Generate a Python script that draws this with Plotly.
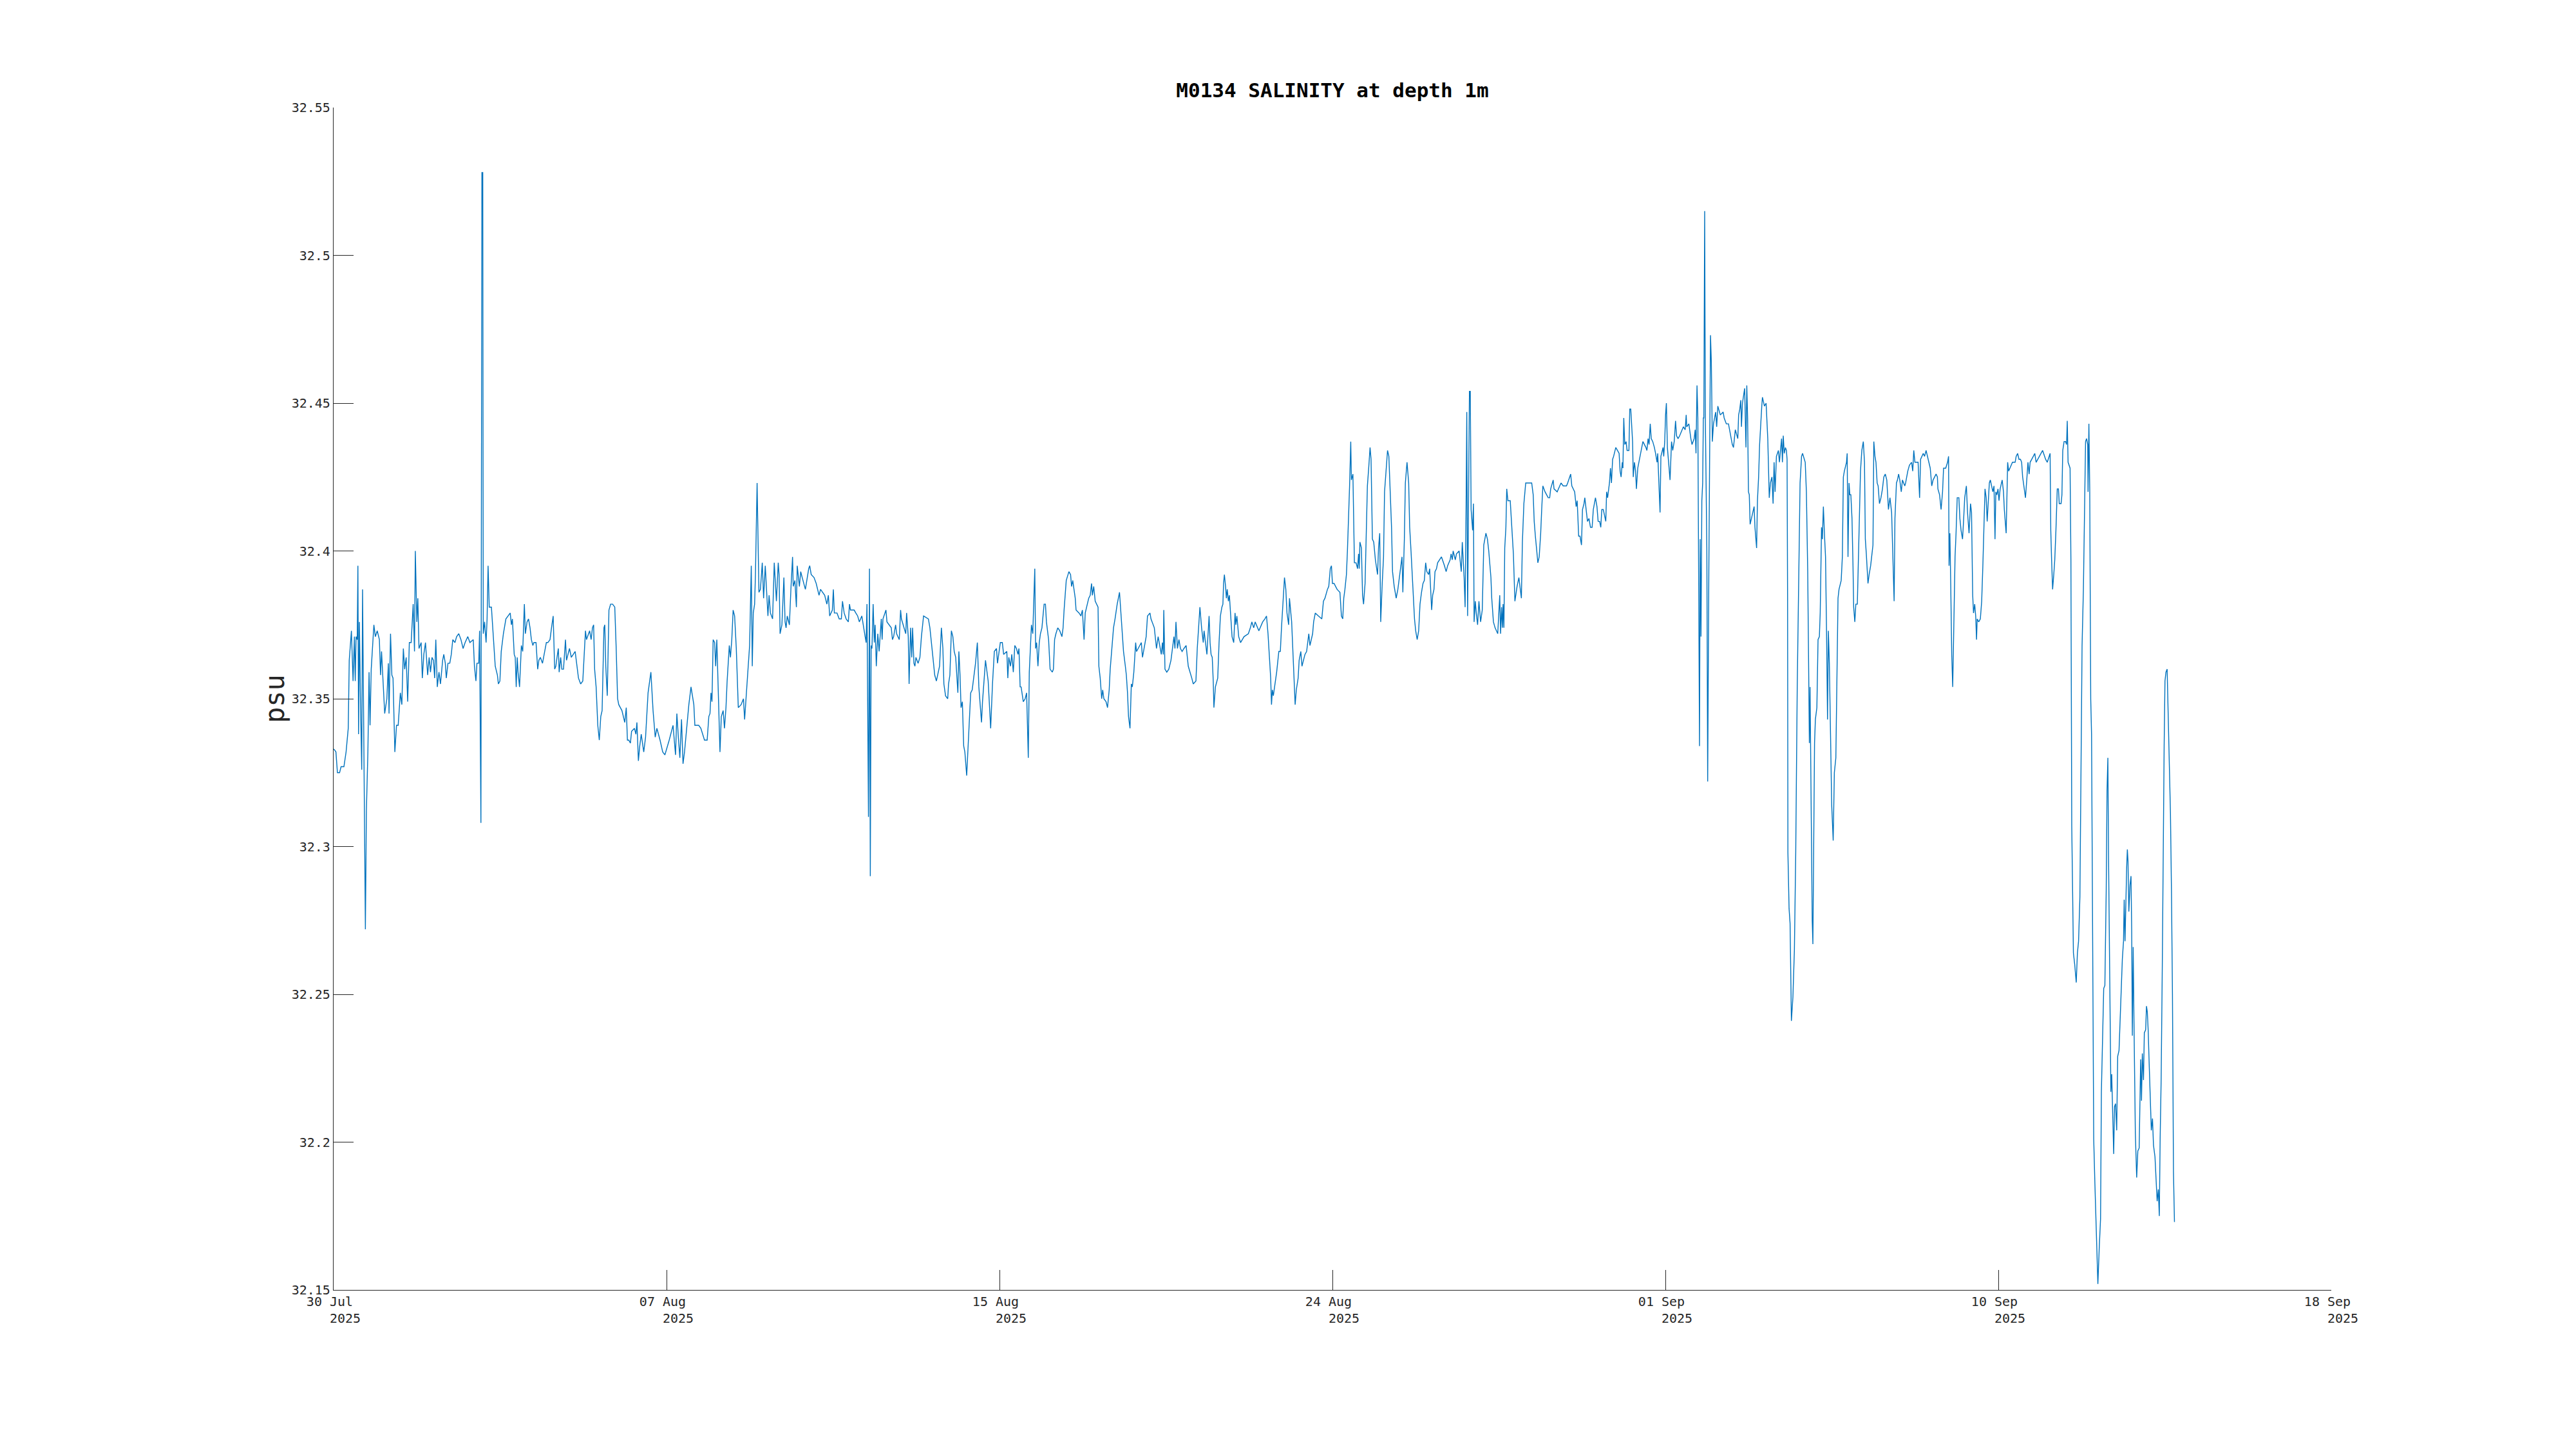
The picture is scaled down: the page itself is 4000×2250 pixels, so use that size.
import pandas as pd
import plotly.graph_objects as go

# ---- data (hours since 2025-07-30 00:00, salinity in psu) ----
start_time = "2025-07-30 00:00"

hours = [
0.1,1.4,2.3,3.6,4.5,6.2,7.5,8.8,9.4,10.7,11.7,12.5,13.0,13.5,14.2,14.6,15.0,15.5,16.1,16.9,17.4,18.2,19.1,19.7,20.6,21.3,21.9,22.6,23.6,24.2,25.1,26.2,27.5,28.2,28.8,29.8,30.7,32.0,32.9,33.3,34.2,35.0,35.7,36.8,37.8,38.8,40.1,41.0,41.9,42.7,43.6,44.5,45.5,46.6,47.8,48.6,49.1,50.0,50.6,51.3,52.6,53.3,54.2,55.2,56.5,57.4,58.2,59.1,60.0,60.7,61.4,62.3,63.3,64.2,65.5,66.2,67.1,67.7,68.7,69.8,70.7,71.6,72.9,73.9,75.2,76.5,77.8,79.0,80.6,81.9,83.9,84.6,85.5,86.1,87.2,87.7,88.1,88.5,89.1,89.6,89.9,90.7,91.6,92.2,92.8,93.5,94.8,95.8,97.1,98.4,99.0,99.9,100.7,102.0,103.5,106.1,106.8,107.4,108.5,
109.1,109.7,110.3,110.8,111.7,112.8,113.6,114.6,115.2,116.2,117.1,118.0,118.8,119.7,120.3,121.6,122.6,123.3,124.2,125.5,126.8,127.8,128.7,130.0,130.9,131.9,132.8,133.5,134.2,135.0,135.5,136.4,137.1,138.1,139.3,139.9,141.7,142.8,145.1,147.1,148.4,149.7,151.3,151.9,153.8,154.7,155.5,156.2,156.8,157.7,158.7,159.6,160.5,161.3,162.4,162.9,163.5,164.4,165.4,166.4,167.6,168.9,169.7,170.6,171.3,173.2,174.9,175.8,176.5,177.3,178.3,179.0,180.7,181.6,182.2,183.1,183.9,184.8,186.3,187.4,188.9,189.7,190.6,191.9,193.2,194.2,196.1,197.7,199.0,201.6,203.9,205.4,206.2,207.1,208.0,209.0,
209.9,210.8,211.9,213.4,214.7,215.7,216.4,217.0,219.3,220.6,222.8,224.4,225.4,226.1,226.7,227.3,228.0,228.9,229.5,230.2,231.2,232.1,232.9,234.0,234.8,235.7,236.4,237.7,238.4,239.2,240.0,240.9,241.9,243.1,244.8,246.2,246.9,248.4,249.3,249.9,250.9,251.5,252.1,252.9,253.4,254.4,255.5,256.4,257.5,258.3,259.3,260.2,260.9,261.6,262.4,263.7,264.7,266.0,267.1,267.6,268.2,269.3,270.5,271.2,271.8,272.5,273.8,274.7,275.7,276.1,277.1,278.0,278.5,279.8,280.6,281.5,282.5,283.4,285.4,286.0,286.9,288.6,289.9,291.6,292.5,295.0,296.3,297.2,298.0,299.6,300.2,300.8,302.4,303.7,305.0,305.7,306.7,307.9,309.2,309.9,
310.5,312.7,313.7,314.8,315.8,317.3,319.3,319.9,320.4,321.3,321.9,322.4,322.9,323.4,324.1,324.8,325.3,326.0,326.9,327.7,329.0,329.5,330.0,331.8,332.4,333.7,335.0,335.7,336.4,337.6,338.2,339.8,340.6,341.1,343.7,344.2,345.2,345.7,346.6,347.3,347.8,348.6,349.2,349.8,351.1,352.2,353.1,354.4,357.3,358.2,358.9,360.2,361.1,362.1,364.0,365.1,366.0,366.6,367.6,368.9,369.4,370.2,371.1,372.0,372.8,373.7,374.3,375.0,375.6,376.3,376.9,377.7,378.5,379.2,380.3,381.3,382.7,383.6,384.7,385.6,386.7,387.6,389.2,389.8,391.6,393.2,394.7,395.8,396.9,398.2,398.8,400.5,401.7,402.5,404.4,405.0,405.6,406.6,407.4,408.3,409.2,410.2,
411.1,411.7,412.4,413.0,414.3,415.4,416.3,417.3,417.9,419.2,420.0,421.2,421.7,422.3,423.1,423.9,424.6,425.5,426.3,426.8,427.6,428.2,429.5,430.4,431.7,432.4,433.1,433.9,435.0,436.2,437.5,438.2,438.8,440.1,441.7,442.7,443.3,444.0,445.5,446.0,447.8,448.9,449.8,450.8,451.5,452.7,453.6,454.5,455.3,455.8,456.6,457.5,459.2,459.7,460.5,461.4,462.0,462.7,464.0,464.9,465.9,466.5,467.4,468.5,469.4,470.7,472.1,473.4,473.9,474.5,475.6,476.2,476.9,477.5,478.4,479.2,479.8,480.7,481.8,482.3,483.3,485.2,485.9,486.8,488.1,488.9,490.4,491.0,493.0,494.3,495.3,497.2,497.9,498.4,498.7,499.4,500.5,501.7,503.0,503.9,504.8,505.4,506.0,506.9,507.8,508.7,509.7,510.8,
512.1,513.4,514.0,515.5,516.4,518.0,518.8,519.5,520.4,521.4,522.4,522.9,524.6,525.9,526.5,527.1,527.8,528.4,528.8,529.7,531.1,531.9,532.7,533.6,534.2,534.6,535.1,535.8,536.3,536.8,537.5,538.1,538.8,539.7,540.7,541.5,542.0,542.6,543.7,544.8,546.9,549.5,550.7,551.6,552.7,553.6,555.8,558.1,559.4,560.4,561.3,562.9,563.4,563.9,564.5,566.5,567.8,568.7,569.4,570.3,571.2,572.0,572.7,573.7,574.2,575.5,576.4,577.0,577.6,578.3,579.4,580.0,581.0,581.7,583.5,584.5,585.8,586.5,588.1,588.7,589.7,591.6,593.6,594.6,595.5,597.0,597.8,598.7,599.4,600.0,601.0,601.9,602.8,604.5,605.4,606.2,606.8,607.5,608.4,609.0,609.7,610.3,611.0,611.4,
612.3,613.2,614.2,615.1,615.7,616.1,616.5,617.4,618.1,618.7,619.6,620.2,621.0,621.9,622.6,623.2,624.0,624.8,625.8,627.1,627.7,628.4,629.0,629.9,630.7,631.3,632.2,633.1,633.9,634.8,635.5,636.1,637.1,638.3,639.3,640.2,641.8,642.3,643.2,643.8,644.8,645.8,646.4,647.2,648.0,649.3,650.0,650.9,651.8,652.6,653.5,654.4,655.2,656.0,656.7,657.8,658.4,659.1,659.6,660.2,661.0,661.6,662.5,663.2,665.5,667.3,668.3,669.2,670.7,671.3,672.0,672.5,673.8,674.5,676.1,677.4,678.0,679.1,679.7,680.3,680.7,681.2,681.8,682.3,682.8,683.3,684.2,684.7,685.1,685.8,686.4,687.2,688.0,689.0,690.0,690.9,692.2,693.1,693.9,695.2,695.7,696.7,697.7,698.6,699.3,700.5,701.0,701.6,702.1,702.5,703.0,703.5,704.2,704.7,705.4,706.8,707.7,708.7,709.6,710.3,710.9,712.0,
712.8,713.5,714.1,715.0,716.1,717.6,719.7,720.6,721.2,721.9,722.5,723.4,724.2,725.1,725.7,726.4,727.7,728.6,729.6,730.5,731.1,732.6,733.1,735.0,737.3,738.6,740.6,741.3,743.1,743.8,745.5,746.4,747.0,747.4,747.9,748.7,749.6,750.2,751.1,751.6,753.2,754.1,755.0,756.0,756.7,758.0,758.9,759.6,760.5,761.2,761.8,762.7,763.5,764.2,764.7,765.3,766.4,767.0,767.6,768.3,768.9,770.2,771.2,772.2,772.8,773.4,774.1,774.5,775.0,775.6,776.4,777.0,778.1,778.6,779.2,780.3,780.7,781.4,782.1,782.6,783.4,784.1,785.7,786.5,788.3,788.9,789.6,790.2,790.9,791.5,792.4,793.4,794.1,795.0,795.4,796.0,796.8,797.3,798.6,799.0,799.6,800.1,800.6,801.2,801.8,802.8,803.7,804.4,805.3,806.1,806.7,807.6,808.6,809.9,810.8,811.9,812.5,
812.8,814.1,815.3,816.0,817.3,817.9,818.4,819.0,819.5,820.0,820.5,820.9,821.4,821.9,822.4,822.8,823.1,823.6,824.0,824.9,825.4,826.1,826.7,827.1,827.6,828.2,828.9,830.2,830.8,831.5,833.0,834.7,835.3,836.6,837.9,838.8,839.6,840.2,840.9,842.0,843.5,844.0,844.7,845.3,845.7,846.3,847.6,848.0,848.4,848.9,849.4,849.9,850.4,850.9,851.7,853.3,853.8,854.8,855.3,856.0,856.6,857.3,857.9,858.3,859.5,860.5,861.5,862.4,863.1,864.0,864.7,865.3,865.9,866.7,867.9,868.5,869.8,870.3,870.8,871.4,872.1,872.7,873.1,873.4,873.6,874.3,874.9,875.7,876.6,877.5,878.3,879.2,880.1,880.9,881.8,882.4,884.0,884.7,885.5,886.0,886.5,886.9,887.6,888.2,888.6,889.1,889.6,890.1,891.0,891.7,892.5,893.0,893.8,894.3,894.9,895.6,896.2,896.8,897.4,897.9,898.5,899.2,899.9,900.8,901.5,902.4,903.0,903.7,904.3,905.6,906.3,906.9,907.5,908.8,909.2,909.7,910.3,910.8,911.4,912.1,912.7,913.1,
913.8,914.4,915.3,915.9,916.6,917.2,918.0,918.9,919.6,920.1,920.7,921.7,922.4,923.3,923.9,924.7,925.2,925.9,926.5,927.2,927.8,928.6,929.5,930.4,931.2,932.1,933.0,934.0,934.9,935.9,936.6,937.4,937.9,938.8,939.4,940.1,940.8,941.7,942.4,943.8,944.3,945.6,946.6,947.9,948.6,949.2,949.9,951.8,952.7,953.3,954.9,955.7,956.6,957.5,959.1,960.0,960.8,962.6,963.4,963.7,964.7,965.6,966.5,967.1,968.4,969.5,970.1,970.4,970.9,971.4,972.0,972.6,973.2,974.0,974.6,975.3,976.3,976.9,977.6,978.5,979.1,979.8,980.8,981.5,982.4,983.3,983.9,984.6,985.1,985.8,986.4,986.9,987.3,988.2,989.2,990.0,990.7,991.4,992.0,992.7,993.3,993.9,994.6,995.2,996.7,997.4,998.0,998.5,999.1,999.8,1000.4,1001.1,1002.3,1003.1,1003.6,1004.7,1005.2,1005.6,1006.2,1006.9,1008.5,1010.1,1010.7,1011.6,1012.4,1013.3,1014.0,
1014.6,1015.5,1016.3,1017.2,1017.8,1018.5,1019.1,1021.0,1021.9,1022.7,1024.5,1026.6,1028.4,1029.4,1031.1,1031.5,1032.0,1032.6,1033.3,1033.9,1034.6,1035.4,1036.1,1036.6,1037.7,1038.2,1038.7,1039.5,1040.4,1041.0,1041.4,1041.9,1043.1,1043.6,1044.1,1044.6,1045.1,1045.9,1046.8,1047.5,1048.2,1049.0,1049.7,1050.3,1051.1,1051.6,1052.4,1053.0,1053.7,1053.9,1054.4,1054.9,1055.5,1056.0,1056.8,1057.3,1058.0,1058.8,1059.3,1059.8,1060.6,1061.4,1061.9,1062.7,1063.3,1064.0,1064.8,1065.3,1065.8,1066.2,1066.8,1067.6,1068.1,1068.7,1069.3,1069.8,1070.4,1071.1,1071.7,1072.5,1073.3,1073.9,1074.5,1075.2,1075.6,1076.1,1076.7,1077.1,1077.5,1077.9,1078.4,1079.1,1079.7,1080.1,1080.5,1081.0,1081.5,1082.3,1083.1,1083.8,1084.6,1085.1,1085.5,1086.0,1086.5,1087.2,1087.7,1088.5,1089.0,1089.5,1090.0,1090.7,1091.3,1091.9,1092.6,1093.2,1094.1,1094.8,1095.4,1096.1,1096.7,1097.2,1097.8,1098.5,1099.0,1099.6,1100.1,1100.7,1101.4,1101.9,1102.7,1103.4,1104.0,1104.6,1105.2,1105.8,
]

salinity = [
32.333,32.332,32.325,32.325,32.327,32.327,32.332,32.340,32.363,32.373,32.356,32.371,32.356,32.371,32.370,32.395,32.338,32.376,32.351,32.326,32.387,32.324,32.272,32.312,32.332,32.359,32.341,32.360,32.369,32.375,32.371,32.373,32.370,32.358,32.366,32.353,32.345,32.350,32.362,32.345,32.372,32.358,32.357,32.332,32.341,32.341,32.352,32.348,32.367,32.360,32.364,32.349,32.369,32.369,32.382,32.366,32.400,32.376,32.384,32.367,32.369,32.357,32.365,32.369,32.358,32.364,32.359,32.364,32.363,32.357,32.370,32.354,32.359,32.355,32.363,32.365,32.362,32.357,32.362,32.362,32.365,32.370,32.369,32.371,32.372,32.370,32.367,32.369,32.371,32.369,32.370,32.361,32.356,32.362,32.362,32.373,32.333,32.308,32.528,32.528,32.372,32.376,32.369,32.377,32.395,32.381,32.381,32.372,32.361,32.358,32.355,32.356,32.366,32.372,32.377,32.379,32.375,32.377,32.365,
32.364,32.354,32.364,32.359,32.354,32.368,32.366,32.382,32.372,32.376,32.377,32.374,32.370,32.368,32.369,32.369,32.360,32.363,32.364,32.362,32.366,32.369,32.369,32.370,32.374,32.378,32.360,32.361,32.364,32.367,32.359,32.364,32.360,32.360,32.370,32.363,32.367,32.364,32.366,32.357,32.355,32.356,32.373,32.370,32.373,32.370,32.374,32.375,32.360,32.354,32.341,32.336,32.344,32.346,32.374,32.375,32.361,32.351,32.380,32.382,32.382,32.381,32.368,32.350,32.348,32.346,32.342,32.347,32.336,32.336,32.335,32.339,32.340,32.338,32.342,32.329,32.334,32.338,32.332,32.337,32.352,32.355,32.359,32.346,32.337,32.340,32.336,32.332,32.331,32.336,32.341,32.331,32.345,32.337,32.330,32.343,
32.328,32.332,32.339,32.348,32.354,32.350,32.348,32.341,32.341,32.340,32.336,32.336,32.344,32.345,32.352,32.349,32.370,32.369,32.361,32.370,32.348,32.332,32.344,32.346,32.340,32.347,32.356,32.368,32.364,32.370,32.380,32.378,32.367,32.347,32.348,32.350,32.343,32.355,32.364,32.368,32.395,32.361,32.379,32.382,32.392,32.423,32.386,32.387,32.396,32.384,32.395,32.385,32.378,32.385,32.379,32.377,32.396,32.383,32.396,32.392,32.372,32.375,32.391,32.376,32.374,32.378,32.375,32.387,32.398,32.388,32.390,32.381,32.395,32.388,32.393,32.391,32.389,32.387,32.394,32.395,32.392,32.391,32.389,32.385,32.387,32.385,32.382,32.385,32.378,32.380,32.387,32.379,32.379,32.377,32.377,32.383,32.379,32.377,32.376,32.382,
32.380,32.380,32.379,32.378,32.376,32.378,32.371,32.369,32.382,32.310,32.394,32.290,32.368,32.367,32.382,32.369,32.375,32.361,32.372,32.366,32.377,32.370,32.377,32.380,32.376,32.375,32.374,32.370,32.371,32.375,32.372,32.370,32.380,32.377,32.372,32.379,32.371,32.355,32.374,32.364,32.374,32.362,32.361,32.364,32.362,32.364,32.371,32.378,32.377,32.374,32.370,32.363,32.358,32.356,32.361,32.374,32.367,32.355,32.351,32.350,32.355,32.358,32.373,32.371,32.366,32.364,32.358,32.352,32.366,32.358,32.347,32.349,32.334,32.332,32.324,32.336,32.352,32.353,32.358,32.362,32.369,32.354,32.342,32.349,32.363,32.356,32.340,32.355,32.366,32.367,32.362,32.369,32.369,32.365,32.366,32.357,32.364,32.361,32.365,32.359,32.368,32.367,
32.365,32.367,32.354,32.354,32.349,32.350,32.352,32.330,32.359,32.375,32.372,32.394,32.367,32.369,32.361,32.369,32.372,32.374,32.379,32.382,32.382,32.376,32.370,32.360,32.359,32.360,32.370,32.372,32.374,32.373,32.371,32.374,32.380,32.390,32.393,32.392,32.388,32.390,32.384,32.380,32.379,32.378,32.380,32.370,32.379,32.382,32.384,32.385,32.389,32.385,32.388,32.383,32.381,32.361,32.357,32.350,32.353,32.350,32.349,32.347,32.353,32.360,32.367,32.374,32.377,32.382,32.386,32.375,32.371,32.366,32.361,32.358,32.352,32.344,32.340,32.355,32.354,32.359,32.369,32.366,32.367,32.369,32.364,32.367,32.371,32.378,32.379,32.377,32.374,32.367,32.371,32.365,32.369,32.365,32.380,32.360,32.359,32.360,32.363,32.367,32.371,32.367,32.376,32.367,32.370,32.367,32.366,32.367,
32.368,32.361,32.360,32.357,32.355,32.356,32.367,32.374,32.381,32.374,32.369,32.373,32.365,32.378,32.369,32.365,32.364,32.356,32.347,32.354,32.357,32.369,32.378,32.381,32.382,32.389,32.392,32.388,32.384,32.387,32.383,32.385,32.378,32.371,32.369,32.379,32.375,32.378,32.371,32.369,32.371,32.372,32.374,32.376,32.374,32.376,32.373,32.376,32.377,32.378,32.372,32.357,32.348,32.353,32.351,32.359,32.366,32.366,32.374,32.382,32.391,32.387,32.379,32.375,32.384,32.376,32.364,32.356,32.348,32.353,32.357,32.363,32.366,32.361,32.365,32.366,32.372,32.368,32.372,32.376,32.379,32.378,32.377,32.383,32.384,32.387,32.388,32.394,32.395,32.389,32.389,32.388,32.387,32.386,32.378,32.377,32.384,32.387,32.392,32.400,32.411,32.422,32.437,32.424,
32.426,32.396,32.396,32.394,32.399,32.394,32.403,32.401,32.385,32.382,32.389,32.404,32.422,32.429,32.435,32.431,32.404,32.403,32.397,32.392,32.401,32.406,32.376,32.389,32.398,32.420,32.428,32.434,32.432,32.419,32.408,32.393,32.388,32.384,32.387,32.391,32.398,32.386,32.404,32.423,32.430,32.423,32.408,32.400,32.391,32.377,32.373,32.370,32.373,32.382,32.386,32.389,32.390,32.396,32.393,32.392,32.394,32.387,32.380,32.385,32.387,32.393,32.394,32.396,32.398,32.395,32.393,32.395,32.397,32.399,32.397,32.400,32.397,32.399,32.400,32.393,32.403,32.391,32.381,32.416,32.447,32.378,32.422,32.454,32.454,32.414,32.407,32.416,32.376,32.383,32.379,32.375,32.383,32.376,32.380,32.402,32.406,32.404,32.400,32.391,32.384,32.376,32.374,32.373,32.372,32.385,32.372,32.381,32.374,32.382,32.374,32.401,32.408,32.421,32.417,32.417,32.409,32.399,32.383,32.386,32.388,32.391,
32.387,32.384,32.403,32.416,32.423,32.423,32.423,32.419,32.410,32.405,32.401,32.396,32.398,32.406,32.414,32.422,32.420,32.419,32.418,32.418,32.421,32.424,32.421,32.420,32.423,32.422,32.422,32.423,32.426,32.422,32.420,32.415,32.417,32.412,32.405,32.405,32.402,32.414,32.416,32.418,32.410,32.411,32.408,32.408,32.414,32.418,32.415,32.410,32.410,32.408,32.414,32.414,32.412,32.410,32.420,32.418,32.423,32.428,32.423,32.431,32.432,32.435,32.434,32.433,32.427,32.425,32.430,32.428,32.445,32.436,32.437,32.434,32.434,32.448,32.448,32.437,32.425,32.430,32.427,32.421,32.428,32.430,32.434,32.437,32.435,32.434,32.438,32.436,32.443,32.438,32.437,32.435,32.433,32.430,32.433,32.425,32.413,32.432,32.435,32.432,32.437,32.446,32.450,32.435,32.430,32.424,32.437,32.434,32.437,32.444,32.439,32.438,32.439,32.441,32.442,32.441,32.446,
32.442,32.443,32.438,32.436,32.438,32.441,32.433,32.456,32.445,32.393,32.334,32.404,32.371,32.417,32.423,32.445,32.445,32.515,32.445,32.401,32.322,32.393,32.433,32.473,32.464,32.437,32.443,32.447,32.442,32.449,32.446,32.447,32.445,32.443,32.443,32.440,32.438,32.436,32.435,32.441,32.438,32.446,32.448,32.451,32.442,32.450,32.455,32.445,32.435,32.456,32.445,32.420,32.419,32.409,32.411,32.415,32.408,32.401,32.417,32.425,32.436,32.445,32.449,32.452,32.449,32.450,32.438,32.418,32.423,32.425,32.416,32.430,32.420,32.432,32.434,32.430,32.438,32.430,32.439,32.433,32.435,32.434,32.431,32.385,32.298,32.279,32.274,32.241,32.249,32.265,32.298,32.354,32.388,32.423,32.432,32.433,32.430,32.420,32.393,32.362,32.335,32.354,32.306,32.275,32.267,32.298,32.335,32.343,32.347,32.370,32.371,32.379,32.408,32.404,32.415,32.405,32.398,32.373,32.343,32.373,32.362,32.338,32.314,32.302,32.325,32.330,32.362,32.384,32.387,32.390,32.398,32.425,32.427,32.430,32.433,32.398,32.423,32.419,32.419,32.411,32.395,32.381,
32.376,32.382,32.382,32.395,32.415,32.427,32.434,32.437,32.430,32.404,32.399,32.389,32.392,32.395,32.398,32.402,32.437,32.432,32.430,32.423,32.422,32.416,32.418,32.421,32.425,32.426,32.424,32.414,32.418,32.413,32.399,32.383,32.411,32.423,32.424,32.426,32.424,32.420,32.424,32.422,32.423,32.427,32.429,32.430,32.427,32.434,32.430,32.430,32.418,32.431,32.433,32.432,32.434,32.432,32.428,32.422,32.424,32.426,32.425,32.421,32.419,32.414,32.420,32.428,32.428,32.430,32.432,32.395,32.406,32.389,32.365,32.354,32.371,32.398,32.406,32.418,32.418,32.411,32.407,32.404,32.410,32.418,32.422,32.413,32.406,32.416,32.413,32.385,32.379,32.382,32.378,32.370,32.377,32.376,32.377,32.383,32.395,32.409,32.421,32.418,32.410,32.416,32.423,32.424,32.420,32.422,32.404,32.420,32.419,32.421,32.417,32.421,32.424,32.420,32.414,32.406,32.420,32.430,32.427,32.428,32.430,32.430,32.432,32.433,32.431,32.431,32.430,
32.425,32.421,32.418,32.425,32.430,32.426,32.430,32.432,32.433,32.430,32.432,32.434,32.431,32.430,32.433,32.407,32.397,32.387,32.392,32.397,32.407,32.421,32.421,32.416,32.416,32.419,32.434,32.437,32.437,32.436,32.444,32.430,32.428,32.397,32.307,32.280,32.264,32.260,32.254,32.264,32.268,32.283,32.338,32.368,32.387,32.407,32.437,32.438,32.436,32.420,32.443,32.421,32.350,32.338,32.240,32.201,32.186,32.168,32.162,32.152,32.164,32.174,32.217,32.240,32.252,32.253,32.285,32.319,32.330,32.297,32.260,32.217,32.223,32.209,32.196,32.212,32.213,32.204,32.229,32.231,32.244,32.252,32.262,32.268,32.282,32.268,32.285,32.293,32.299,32.295,32.278,32.287,32.290,32.272,32.236,32.266,32.240,32.203,32.188,32.197,32.198,32.213,32.228,32.214,32.230,32.221,32.237,32.238,32.246,32.244,32.238,32.225,32.213,32.204,32.208,32.199,32.195,32.188,32.180,32.184,32.175,32.201,32.221,32.260,32.299,32.334,32.356,32.359,32.360,32.348,32.331,32.311,32.285,32.250,32.190,32.173,
]

# ---- axis labels ----
title_text = "M0134 SALINITY at depth 1m"
y_label = "psu"
x_range = ["2025-07-30 00:00", "2025-09-18 00:00"]
x_tick_labels = ["30 Jul", "07 Aug", "15 Aug", "24 Aug", "01 Sep", "10 Sep", "18 Sep"]
x_tick_year = "2025"
y_ticks = [32.15, 32.2, 32.25, 32.3, 32.35, 32.4, 32.45, 32.5, 32.55]
y_tick_labels = ["32.15", "32.2", "32.25", "32.3", "32.35", "32.4", "32.45", "32.5", "32.55"]

assert len(hours) == len(salinity), (len(hours), len(salinity))

t0 = pd.Timestamp(start_time)
times = t0 + pd.to_timedelta(hours, unit="h")

x0 = pd.Timestamp(x_range[0])
x1 = pd.Timestamp(x_range[1])
n = len(x_tick_labels) - 1
x_tick_vals = [x0 + (x1 - x0) * k / n for k in range(n + 1)]
x_tick_text = [f"{lab}&nbsp;<br>&nbsp;&nbsp;&nbsp;{x_tick_year}" for lab in x_tick_labels]

MONO = "DejaVu Sans Mono"
AX = "#262626"

# page body has an 8px default margin; compensate so the plot lands where the reference has it
OFF = 8
PL, PR, PT, PB = 518, 3620, 167, 2003

fig = go.Figure()
fig.add_trace(go.Scatter(
    x=times, y=salinity, mode="lines",
    line=dict(color="#0072BD", width=1.4),
    showlegend=False,
))

fig.update_layout(
    width=4000, height=2250,
    paper_bgcolor="white", plot_bgcolor="white",
    margin=dict(l=PL - OFF, r=4000 - PR + OFF, t=PT - OFF, b=2250 - PB + OFF, pad=0),
    title=dict(text=f"<b>{title_text}</b>", x=((PL + PR) / 2 - OFF) / 4000, xanchor="center",
               y=1 - (140 - OFF) / 2250, yanchor="middle",
               font=dict(family=MONO, size=31, color="black")),
    xaxis=dict(
        type="date", range=[x0, x1],
        tickmode="array", tickvals=x_tick_vals, ticktext=x_tick_text,
        ticks="inside", ticklen=31, tickwidth=1.2, tickcolor=AX,
        showline=True, linecolor=AX, linewidth=1.2,
        showgrid=False, zeroline=False,
        tickfont=dict(family=MONO, size=20, color=AX),
    ),
    yaxis=dict(
        range=[32.15, 32.55],
        tickmode="array", tickvals=y_ticks, ticktext=y_tick_labels,
        ticks="inside", ticklen=31, tickwidth=1.2, tickcolor=AX,
        showline=True, linecolor=AX, linewidth=1.2,
        showgrid=False, zeroline=False,
        tickfont=dict(family=MONO, size=20, color=AX),
    ),
    annotations=[dict(
        text=y_label, xref="paper", yref="paper",
        x=(426 - PL) / (PR - PL), y=0.5, xanchor="center", yanchor="middle",
        textangle=-90, showarrow=False,
        font=dict(family=MONO, size=42, color=AX),
    )],
)

fig.write_html("out.html")
